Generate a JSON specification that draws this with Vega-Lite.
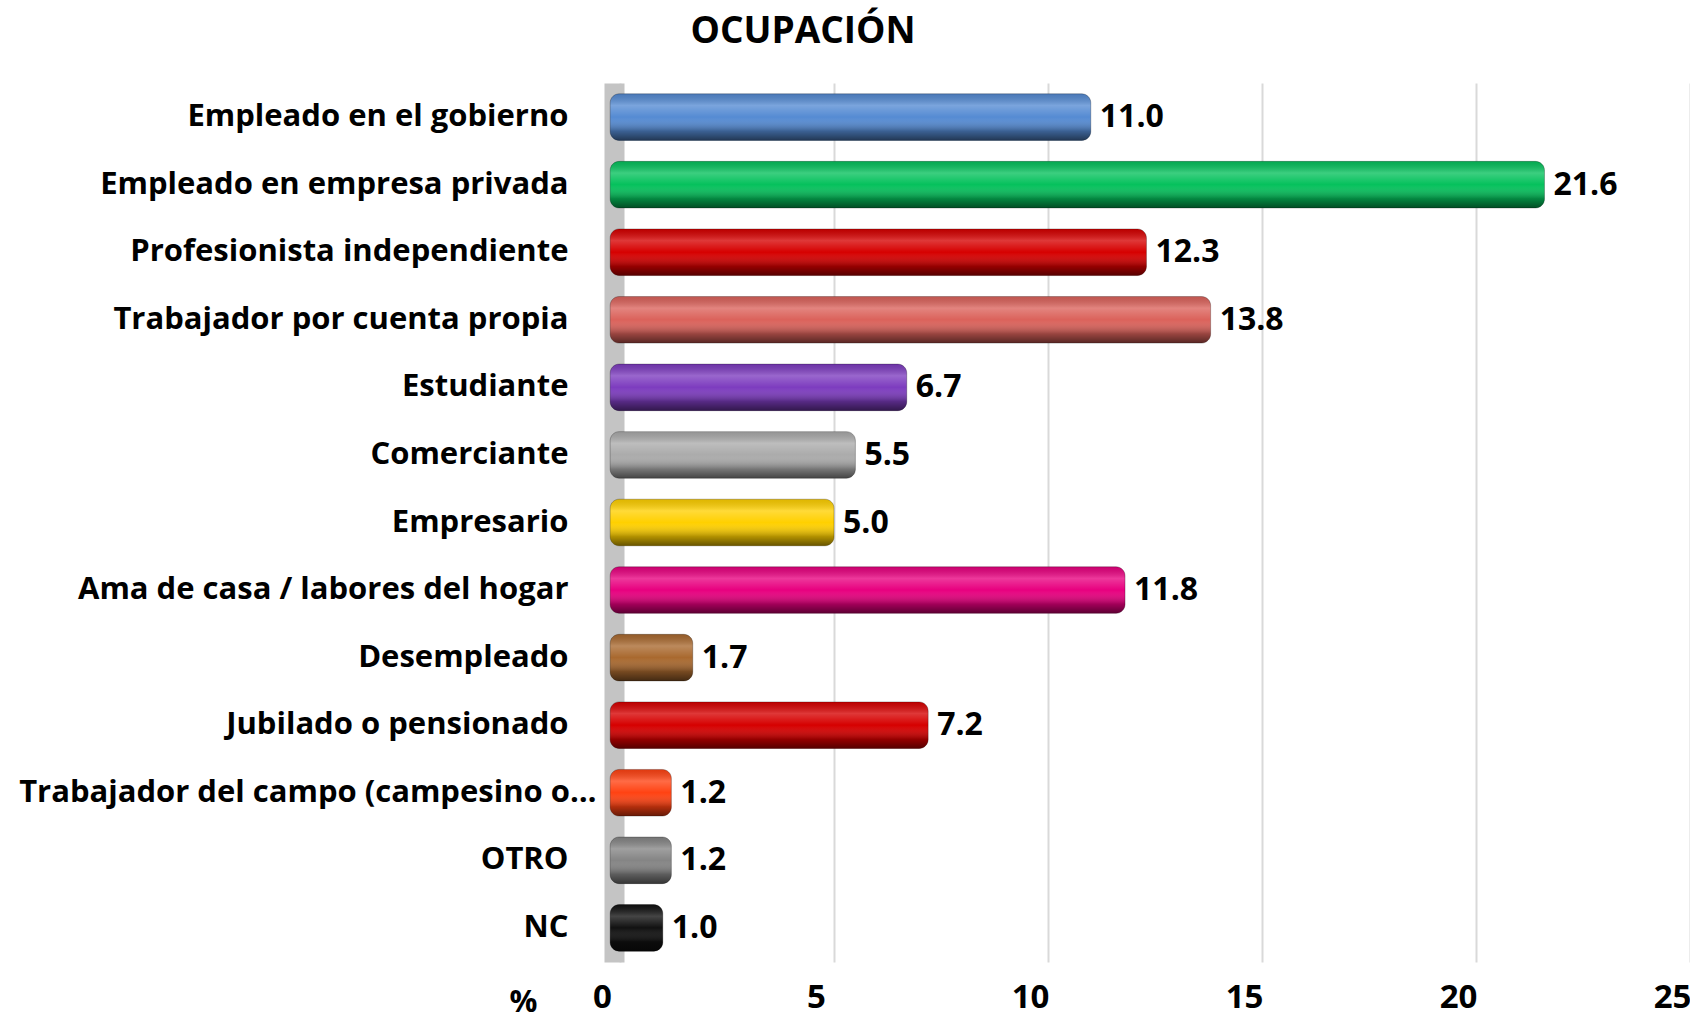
{
  "$schema": "https://vega.github.io/schema/vega-lite/v6.json",
  "autosize": "none",
  "padding": {"left": 620, "top": 83, "right": 0, "bottom": 62},
  "width": 1070,
  "height": 879,
  "background": "white",
  "title": {
    "text": "OCUPACIÓN",
    "font": "Open Sans",
    "fontSize": 37,
    "fontWeight": "bold",
    "color": "black",
    "anchor": "middle",
    "frame": "group",
    "dx": -352,
    "offset": 32
  },
  "config": {
    "view": {"stroke": null},
    "font": "Open Sans"
  },
  "data": {
    "values": [
      {"ocupacion": "Empleado en el gobierno", "pct": 11.0},
      {"ocupacion": "Empleado en empresa privada", "pct": 21.6},
      {"ocupacion": "Profesionista independiente", "pct": 12.3},
      {"ocupacion": "Trabajador por cuenta propia", "pct": 13.8},
      {"ocupacion": "Estudiante", "pct": 6.7},
      {"ocupacion": "Comerciante", "pct": 5.5},
      {"ocupacion": "Empresario", "pct": 5.0},
      {"ocupacion": "Ama de casa / labores del hogar", "pct": 11.8},
      {"ocupacion": "Desempleado", "pct": 1.7},
      {"ocupacion": "Jubilado o pensionado", "pct": 7.2},
      {"ocupacion": "Trabajador del campo (campesino o…", "pct": 1.2},
      {"ocupacion": "OTRO", "pct": 1.2},
      {"ocupacion": "NC", "pct": 1.0}
    ]
  },
  "encoding": {
    "y": {
      "field": "ocupacion",
      "type": "nominal",
      "sort": null,
      "scale": {"paddingInner": 0.31, "paddingOuter": 0.16},
      "axis": {
        "title": null,
        "domain": true,
        "domainColor": "#C4C4C4",
        "domainWidth": 20,
        "offset": 6,
        "ticks": false,
        "tickSize": 0,
        "grid": false,
        "labelFont": "Open Sans",
        "labelFontSize": 31,
        "labelFontWeight": "bold",
        "labelColor": "black",
        "labelPadding": {
          "condition": {"test": "datum.value === 'Trabajador del campo (campesino o…'", "value": 18},
          "value": 46
        },
        "labelLimit": 640
      }
    },
    "x": {
      "field": "pct",
      "type": "quantitative",
      "scale": {"domain": [0, 25], "nice": false, "zero": true},
      "axis": {
        "title": "%",
        "titleFont": "Open Sans",
        "titleFontSize": 31,
        "titleFontWeight": "bold",
        "titleColor": "black",
        "titleAngle": 0,
        "titleAlign": "center",
        "titleBaseline": "middle",
        "titleX": -97,
        "titleY": 40,
        "values": [0, 5, 10, 15, 20, 25],
        "domain": false,
        "ticks": false,
        "grid": true,
        "gridColor": "#D9D9D9",
        "gridWidth": 2,
        "labelFont": "Open Sans",
        "labelFontSize": 33,
        "labelFontWeight": "bold",
        "labelColor": "black",
        "labelPadding": 19,
        "labelOffset": -18,
        "labelFlush": false
      }
    }
  },
  "layer": [
    {
      "mark": {"type": "bar", "cornerRadius": 9},
      "encoding": {
        "x2": {"datum": -0.23},
        "color": {
          "field": "ocupacion",
          "type": "nominal",
          "legend": null,
          "scale": {
            "domain": [
              "Empleado en el gobierno",
              "Empleado en empresa privada",
              "Profesionista independiente",
              "Trabajador por cuenta propia",
              "Estudiante",
              "Comerciante",
              "Empresario",
              "Ama de casa / labores del hogar",
              "Desempleado",
              "Jubilado o pensionado",
              "Trabajador del campo (campesino o…",
              "OTRO",
              "NC"
            ],
            "range": [
              "#558BD3",
              "#05C15C",
              "#D60000",
              "#DB625B",
              "#7D3CBF",
              "#ABABAB",
              "#FFD000",
              "#E8007F",
              "#A9692F",
              "#D60000",
              "#FF4212",
              "#858585",
              "#111111"
            ]
          }
        }
      }
    },
    {
      "mark": {
        "type": "bar",
        "cornerRadius": 9,
        "fill": {
          "gradient": "linear",
          "x1": 0, "y1": 0, "x2": 0, "y2": 1,
          "stops": [
            {"offset": 0, "color": "rgba(0,0,0,0.12)"},
            {"offset": 0.25, "color": "rgba(255,255,255,0.22)"},
            {"offset": 0.5, "color": "rgba(255,255,255,0.0)"},
            {"offset": 0.8, "color": "rgba(0,0,0,0.3)"},
            {"offset": 1, "color": "rgba(0,0,0,0.6)"}
          ]
        },
        "stroke": "rgba(0,0,0,0.25)",
        "strokeWidth": 1
      },
      "encoding": {
        "x2": {"datum": -0.23}
      }
    },
    {
      "mark": {
        "type": "text",
        "align": "left",
        "baseline": "middle",
        "dx": 9,
        "font": "Open Sans",
        "fontSize": 32,
        "fontWeight": "bold",
        "color": "black"
      },
      "encoding": {
        "text": {"field": "pct", "type": "quantitative", "format": ".1f"}
      }
    }
  ]
}
